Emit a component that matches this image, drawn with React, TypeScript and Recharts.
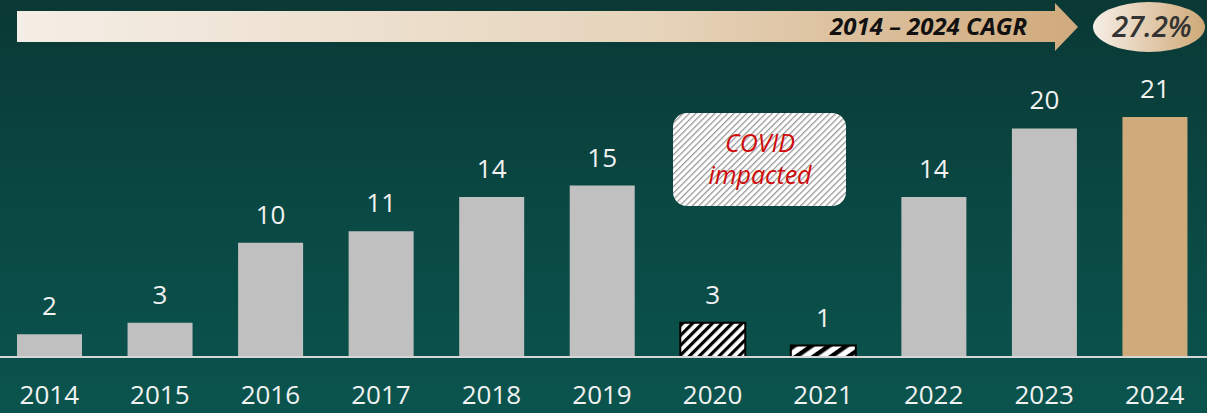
import { BarChart, Bar, XAxis, YAxis, Cell, LabelList } from "recharts"

const years = ["2014", "2015", "2016", "2017", "2018", "2019", "2020", "2021", "2022", "2023", "2024"]
const values = [2, 3, 10, 11, 14, 15, 3, 1, 14, 20, 21]
const covidYears = ["2020", "2021"]
const highlightYear = "2024"
const cagrLabel = "2014 – 2024 CAGR"
const cagrValue = "27.2%"
const noteLines = ["COVID", "impacted"]

const data = years.map((year, i) => ({ year, value: values[i] }))

const font = "'Open Sans', 'Noto Sans', sans-serif"

function barFill(year: string) {
  if (year === highlightYear) return "#cfaa7a"
  if (year === "2020") return "url(#hatchTight)"
  if (year === "2021") return "url(#hatchWide)"
  return "#c0c0c0"
}

export default function App() {
  return (
    <div
      style={{
        position: "relative",
        width: 1207,
        height: 413,
        overflow: "hidden",
        fontFamily: font,
        background: "linear-gradient(180deg, #0a3835 0%, #0a4843 50%, #0b544e 100%)",
      }}
    >
      <style>{`body{margin:0}`}</style>
      <div style={{ position: "absolute", left: -6, top: 0 }}>
        <BarChart
          width={1216}
          height={413}
          data={data}
          margin={{ top: 37, right: 0, bottom: 0, left: 0 }}
          barSize={65}
        >
          <defs>
            <pattern id="hatchTight" width="7" height="7" patternUnits="userSpaceOnUse" patternTransform="rotate(45)">
              <rect width="7" height="7" fill="#ffffff" />
              <rect width="3.2" height="7" fill="#000000" />
            </pattern>
            <pattern id="hatchWide" width="10" height="10" patternUnits="userSpaceOnUse" patternTransform="rotate(55)">
              <rect width="10" height="10" fill="#ffffff" />
              <rect width="4.5" height="10" fill="#000000" />
            </pattern>
          </defs>
          <XAxis
            dataKey="year"
            height={56}
            axisLine={{ stroke: "#d6d6d6", strokeWidth: 2 }}
            tickLine={false}
            tickSize={0}
            tickMargin={29}
            interval={0}
            tick={{ fill: "#f2f2f2", fontSize: 26, fontFamily: font }}
          />
          <YAxis hide domain={[0, 28]} />
          <Bar dataKey="value" isAnimationActive={false}>
            {data.map((d) => (
              <Cell
                key={d.year}
                fill={barFill(d.year)}
                stroke={covidYears.includes(d.year) ? "#000000" : "none"}
                strokeWidth={covidYears.includes(d.year) ? 2 : 0}
              />
            ))}
            <LabelList
              dataKey="value"
              position="top"
              offset={19}
              fill="#f2f2f2"
              fontSize={26}
              fontFamily={font}
            />
          </Bar>
        </BarChart>
      </div>
      <svg
        width={1207}
        height={413}
        style={{ position: "absolute", left: 0, top: 0, pointerEvents: "none" }}
      >
        <defs>
          <linearGradient id="arrowGrad" x1="0" y1="0" x2="1" y2="0">
            <stop offset="0%" stopColor="#f5eee6" />
            <stop offset="60%" stopColor="#e6d4bb" />
            <stop offset="100%" stopColor="#d0aa7c" />
          </linearGradient>
          <linearGradient id="ovalGrad" x1="0" y1="0" x2="1" y2="0">
            <stop offset="0%" stopColor="#f5eee6" />
            <stop offset="100%" stopColor="#cfa977" />
          </linearGradient>
          <pattern id="noteHatch" width="4.5" height="4.5" patternUnits="userSpaceOnUse" patternTransform="rotate(45)">
            <rect width="4.5" height="4.5" fill="#ffffff" />
            <rect width="1.3" height="4.5" fill="#9a9a9a" />
          </pattern>
        </defs>
        <path d="M17 11 H1055 V3 L1078 27 L1055 51 V42 H17 Z" fill="url(#arrowGrad)" />
        <text
          x={1027}
          y={35}
          textAnchor="end"
          fontSize={24}
          fontWeight={700}
          fontStyle="italic"
          fill="#111111"
          fontFamily={font}
        >
          {cagrLabel}
        </text>
        <ellipse cx={1149} cy={27} rx={56} ry={25} fill="url(#ovalGrad)" />
        <text
          x={1152}
          y={37}
          textAnchor="middle"
          fontSize={29}
          fontWeight={600}
          fontStyle="italic"
          fill="#333333"
          fontFamily={font}
        >
          {cagrValue}
        </text>
        <rect x={673} y={113} width={173} height={93} rx={14} fill="url(#noteHatch)" />
        {noteLines.map((line, i) => (
          <text
            key={line}
            x={760}
            y={152 + i * 32}
            textAnchor="middle"
            fontSize={25}
            fontStyle="italic"
            fill="#d10a0a"
            fontFamily={font}
          >
            {line}
          </text>
        ))}
      </svg>
    </div>
  )
}
